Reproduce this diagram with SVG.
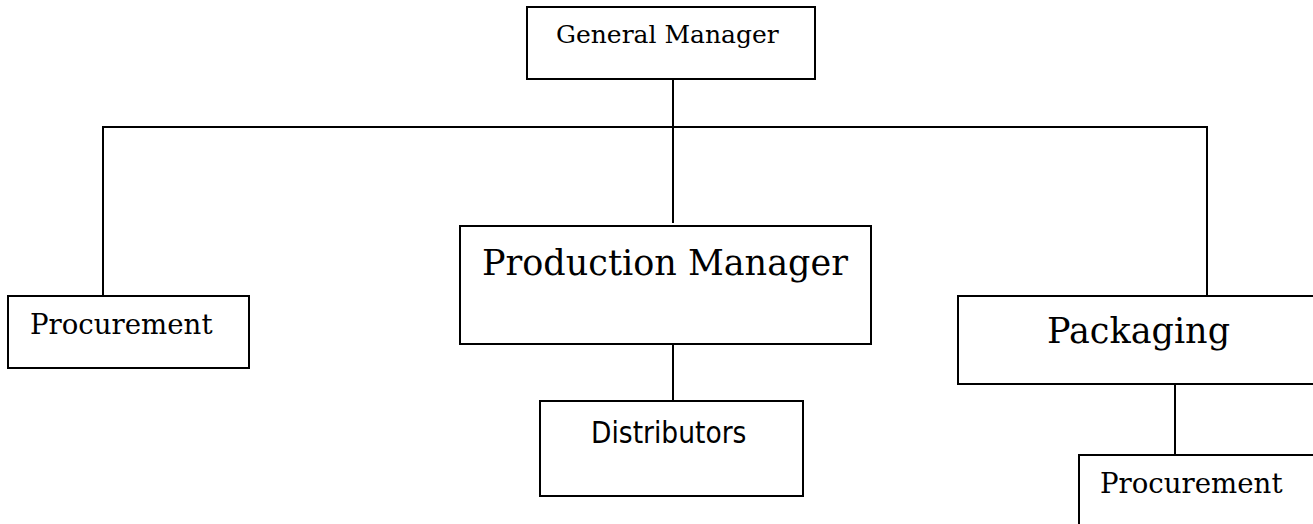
<svg xmlns="http://www.w3.org/2000/svg" width="1313" height="524" viewBox="0 0 1313 524">
<style>
.box{fill:#fff;stroke:#000;stroke-width:2}
.ln{stroke:#000;stroke-width:2;fill:none}
.s{font-family:"DejaVu Serif","Liberation Serif",serif;fill:#000}
.ss{font-family:"DejaVu Sans Condensed","DejaVu Sans","Liberation Sans",sans-serif;font-stretch:condensed;fill:#000}
</style>
<rect width="1313" height="524" fill="#fff"/>
<g id="connectors">
<line class="ln" x1="673" y1="79" x2="673" y2="223"/>
<line class="ln" x1="102" y1="127" x2="1208" y2="127"/>
<line class="ln" x1="103" y1="126" x2="103" y2="296"/>
<line class="ln" x1="1207" y1="126" x2="1207" y2="296"/>
<line class="ln" x1="673" y1="344" x2="673" y2="401"/>
<line class="ln" x1="1175" y1="384" x2="1175" y2="455"/>
</g>
<g id="gm">
<rect class="box" x="527" y="7" width="288" height="72"/>
<text class="s" x="556" y="43" font-size="25">General Manager</text>
</g>
<g id="procurement-left">
<rect class="box" x="8" y="296" width="241" height="72"/>
<text class="s" x="30" y="334" font-size="27.6">Procurement</text>
</g>
<g id="production-manager">
<rect class="box" x="460" y="226" width="411" height="118"/>
<text class="s" x="482" y="275" font-size="35">Production Manager</text>
</g>
<g id="distributors">
<rect class="box" x="540" y="401" width="263" height="95"/>
<text class="ss" x="591" y="443" font-size="29.5">Distributors</text>
</g>
<g id="packaging">
<rect class="box" x="958" y="296" width="360" height="88"/>
<text class="s" x="1047" y="343" font-size="35">Packaging</text>
</g>
<g id="procurement-right">
<rect class="box" x="1079" y="455" width="240" height="80"/>
<text class="s" x="1100" y="493" font-size="27.6">Procurement</text>
</g>
</svg>
